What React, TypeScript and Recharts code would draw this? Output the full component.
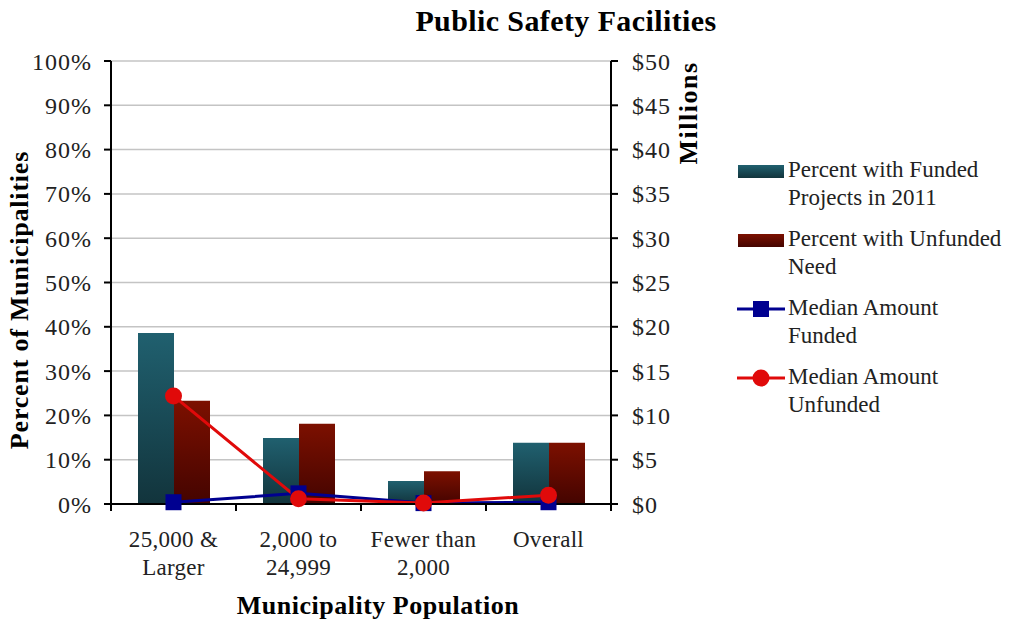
import {
  ComposedChart,
  Bar,
  Line,
  XAxis,
  YAxis,
  CartesianGrid,
} from "recharts";

const CATEGORIES = ["25,000 &\nLarger", "2,000 to\n24,999", "Fewer than\n2,000", "Overall"];
const PCT_FUNDED = [38.6, 14.9, 5.2, 13.8];
const PCT_UNFUNDED = [23.3, 18.1, 7.4, 13.8];
const MEDIAN_FUNDED = [0.2, 1.2, 0.1, 0.2];
const MEDIAN_UNFUNDED = [12.2, 0.6, 0.1, 1.0];
const LEFT_TICKS = [0, 10, 20, 30, 40, 50, 60, 70, 80, 90, 100];
const RIGHT_TICKS = [0, 5, 10, 15, 20, 25, 30, 35, 40, 45, 50];

const FONT = '"Liberation Serif", "DejaVu Serif", serif';
const BLUE = "#000090";
const RED = "#e00a0a";

const data = CATEGORIES.map((name, i) => ({
  name,
  funded: PCT_FUNDED[i],
  unfunded: PCT_UNFUNDED[i],
  medFunded: MEDIAN_FUNDED[i],
  medUnfunded: MEDIAN_UNFUNDED[i],
}));

function CategoryTick(props: any) {
  const { x, y, payload, index, width } = props;
  const step = width / CATEGORIES.length;
  const lines = String(payload.value).split("\n");
  const axisY = y - 28;
  return (
    <g>
      <line x1={x - step / 2} x2={x - step / 2} y1={axisY} y2={axisY + 7} stroke="#000" strokeWidth={2} />
      {index === CATEGORIES.length - 1 && (
        <line x1={x + step / 2} x2={x + step / 2} y1={axisY} y2={axisY + 7} stroke="#000" strokeWidth={2} />
      )}
      <text x={x} y={y} textAnchor="middle" fontFamily={FONT} fontSize={23} fill="#222" letterSpacing={0.3}>
        {lines.map((l, k) => (
          <tspan key={k} x={x} dy={k === 0 ? 15 : 28}>
            {l}
          </tspan>
        ))}
      </text>
    </g>
  );
}

function SquareDot(props: any) {
  const { cx, cy } = props;
  if (cx == null || cy == null) return null;
  return <rect x={cx - 8} y={cy - 8} width={16} height={16} fill={BLUE} />;
}

function CircleDot(props: any) {
  const { cx, cy } = props;
  if (cx == null || cy == null) return null;
  return <circle cx={cx} cy={cy} r={8.5} fill={RED} />;
}

const legendItems = [
  { kind: "bar", lines: ["Percent with Funded", "Projects in 2011"] },
  { kind: "bar", lines: ["Percent with Unfunded", "Need"] },
  { kind: "square", lines: ["Median Amount", "Funded"] },
  { kind: "circle", lines: ["Median Amount", "Unfunded"] },
];

export default function App() {
  return (
    <div style={{ position: "absolute", left: 0, top: 0, width: 1010, height: 623, background: "#fff", fontFamily: FONT }}>
      <div
        style={{
          position: "absolute",
          left: 316,
          width: 500,
          top: 4,
          textAlign: "center",
          fontSize: 30,
          fontWeight: "bold",
          letterSpacing: 0.4,
          color: "#000",
        }}
      >
        Public Safety Facilities
      </div>
      <ComposedChart
        width={1010}
        height={623}
        data={data}
        margin={{ top: 61, right: 0, bottom: 0, left: 0 }}
        barGap={0}
        barSize={36}
      >
        <defs>
          <linearGradient id="gradFunded" x1="0" y1="0" x2="0" y2="1">
            <stop offset="0%" stopColor="#20606f" />
            <stop offset="100%" stopColor="#12343c" />
          </linearGradient>
          <linearGradient id="gradUnfunded" x1="0" y1="0" x2="0" y2="1">
            <stop offset="0%" stopColor="#7c1000" />
            <stop offset="100%" stopColor="#440400" />
          </linearGradient>
        </defs>
        <CartesianGrid vertical={false} stroke="#c4c4c4" strokeWidth={1.5} yAxisId="left" />
        <XAxis
          dataKey="name"
          height={119}
          axisLine={{ stroke: "#000", strokeWidth: 2 }}
          tickLine={false}
          tickSize={8}
          tickMargin={20}
          tick={<CategoryTick />}
          interval={0}
          label={{
            content: () => (
              <text
                x={378}
                y={614}
                textAnchor="middle"
                fontFamily={FONT}
                fontSize={26}
                fontWeight="bold"
                letterSpacing={0.5}
                fill="#000"
              >
                Municipality Population
              </text>
            ),
          }}
        />
        <YAxis
          yAxisId="left"
          width={111}
          domain={[0, 100]}
          ticks={LEFT_TICKS}
          interval={0}
          tickFormatter={(v: number) => `${v}%`}
          axisLine={{ stroke: "#000", strokeWidth: 2 }}
          tickLine={{ stroke: "#000", strokeWidth: 2 }}
          tickSize={7}
          tickMargin={12}
          tick={{ fontFamily: FONT, fontSize: 24, fill: "#222", letterSpacing: 1 }}
          label={{
            content: () => (
              <text
                x={0}
                y={0}
                transform="translate(28 300) rotate(-90)"
                textAnchor="middle"
                fontFamily={FONT}
                fontSize={26}
                fontWeight="bold"
                letterSpacing={0.8}
                fill="#000"
              >
                Percent of Municipalities
              </text>
            ),
          }}
        />
        <YAxis
          yAxisId="right"
          orientation="right"
          width={399}
          domain={[0, 50]}
          ticks={RIGHT_TICKS}
          interval={0}
          tickFormatter={(v: number) => `$${v}`}
          axisLine={{ stroke: "#000", strokeWidth: 2 }}
          tickLine={{ stroke: "#000", strokeWidth: 2 }}
          tickSize={7}
          tickMargin={14}
          tick={{ fontFamily: FONT, fontSize: 24, fill: "#222", textAnchor: "start", letterSpacing: 1 }}
          label={{
            content: () => (
              <text
                x={0}
                y={0}
                transform="translate(697 113) rotate(-90)"
                textAnchor="middle"
                fontFamily={FONT}
                fontSize={26}
                fontWeight="bold"
                letterSpacing={1.5}
                fill="#000"
              >
                Millions
              </text>
            ),
          }}
        />
        <Bar yAxisId="left" dataKey="funded" fill="url(#gradFunded)" isAnimationActive={false} />
        <Bar yAxisId="left" dataKey="unfunded" fill="url(#gradUnfunded)" isAnimationActive={false} />
        <Line
          yAxisId="right"
          type="linear"
          dataKey="medFunded"
          stroke={BLUE}
          strokeWidth={3}
          dot={<SquareDot />}
          activeDot={false}
          isAnimationActive={false}
        />
        <Line
          yAxisId="right"
          type="linear"
          dataKey="medUnfunded"
          stroke={RED}
          strokeWidth={3}
          dot={<CircleDot />}
          activeDot={false}
          isAnimationActive={false}
        />
      </ComposedChart>
      <div style={{ position: "absolute", left: 736, top: 156 }}>
        {legendItems.map((item, i) => (
          <div key={i} style={{ display: "flex", alignItems: "flex-start", marginBottom: 13 }}>
            <svg width={50} height={28} style={{ flex: "none" }}>
              <defs>
                <linearGradient id={`lg${i}`} x1="0" y1="0" x2="0" y2="1">
                  <stop offset="0%" stopColor={i === 0 ? "#20606f" : "#7c1000"} />
                  <stop offset="100%" stopColor={i === 0 ? "#12343c" : "#440400"} />
                </linearGradient>
              </defs>
              {item.kind === "bar" && <rect x={2} y={9} width={46} height={13} fill={`url(#lg${i})`} />}
              {item.kind === "square" && (
                <g>
                  <line x1={1} x2={49} y1={15} y2={15} stroke={BLUE} strokeWidth={3} />
                  <rect x={17} y={7} width={16} height={16} fill={BLUE} />
                </g>
              )}
              {item.kind === "circle" && (
                <g>
                  <line x1={1} x2={49} y1={15} y2={15} stroke={RED} strokeWidth={3} />
                  <circle cx={25} cy={15} r={8.5} fill={RED} />
                </g>
              )}
            </svg>
            <div style={{ fontSize: 23, lineHeight: "28px", color: "#222", marginLeft: 2, whiteSpace: "nowrap" }}>
              {item.lines.map((l, k) => (
                <div key={k}>{l}</div>
              ))}
            </div>
          </div>
        ))}
      </div>
    </div>
  );
}
